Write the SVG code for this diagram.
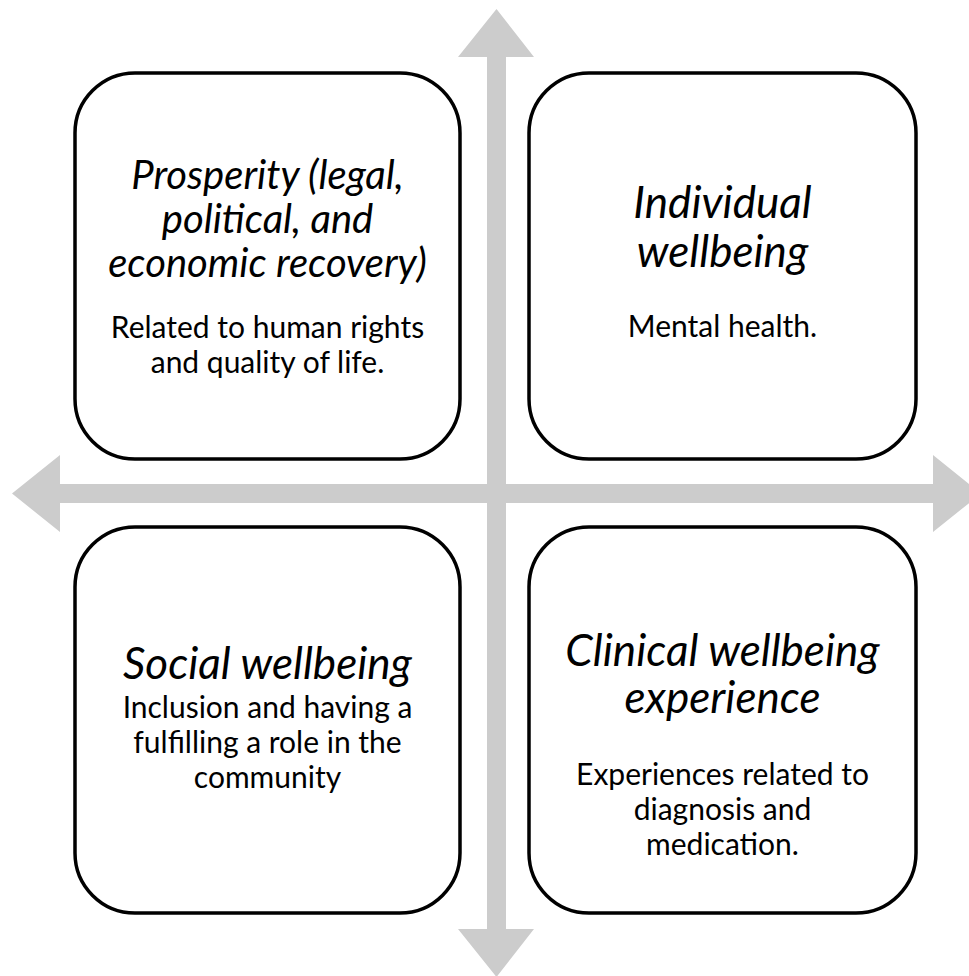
<svg xmlns="http://www.w3.org/2000/svg" width="969" height="976" viewBox="0 0 969 976">
<style>
.box{fill:#ffffff;stroke:#000000;stroke-width:3.5}
.arrow{fill:#cccccc;stroke:none}
text{font-family:Lato,"Open Sans","Liberation Sans",sans-serif;fill:#000000;text-anchor:middle}
.t{font-style:italic;font-size:44px}
.ts{font-style:italic;font-size:40px}
.b{font-size:30px}
</style>
<rect width="969" height="976" fill="#ffffff"/>
<g id="connectors">
<polygon class="arrow" points="496.5,9 534,57 506,57 506,929 534,929 496.5,977 458,929 487,929 487,57 458,57"/>
<polygon class="arrow" points="12,493.5 60,455 60,484 933,484 933,455 981,493.5 933,532 933,503 60,503 60,532"/>
</g>
<g id="prosperity">
<rect class="box" x="75" y="73" width="385" height="386" rx="60" ry="60"/>
<text class="ts" x="267.5" y="189">Prosperity (legal,</text>
<text class="ts" x="267.5" y="233">political, and</text>
<text class="ts" x="267.5" y="277">economic recovery)</text>
<text class="b" x="267.5" y="338">Related to human rights</text>
<text class="b" x="267.5" y="373">and quality of life.</text>
</g>
<g id="individual">
<rect class="box" x="529" y="73" width="387" height="386" rx="60" ry="60"/>
<text class="t" x="722.5" y="218">Individual</text>
<text class="t" x="722.5" y="267">wellbeing</text>
<text class="b" x="722.5" y="337">Mental health.</text>
</g>
<g id="social">
<rect class="box" x="75" y="527" width="385" height="386" rx="60" ry="60"/>
<text class="t" x="267.5" y="679">Social wellbeing</text>
<text class="b" x="267.5" y="718">Inclusion and having a</text>
<text class="b" x="267.5" y="753">fulfilling a role in the</text>
<text class="b" x="267.5" y="788">community</text>
</g>
<g id="clinical">
<rect class="box" x="529" y="527" width="387" height="386" rx="60" ry="60"/>
<text class="t" x="722.5" y="666">Clinical wellbeing</text>
<text class="t" x="722.5" y="713">experience</text>
<text class="b" x="722.5" y="785">Experiences related to</text>
<text class="b" x="722.5" y="820">diagnosis and</text>
<text class="b" x="722.5" y="855">medication.</text>
</g>
</svg>
